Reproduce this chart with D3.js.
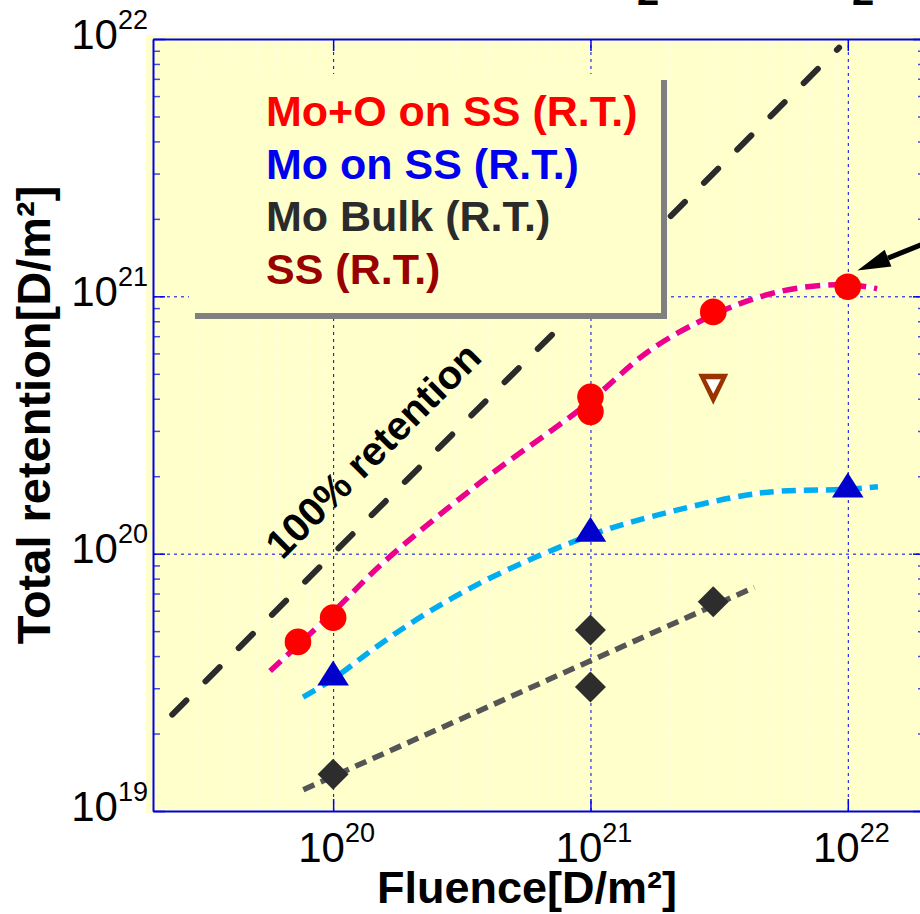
<!DOCTYPE html>
<html>
<head>
<meta charset="utf-8">
<script src="https://cdn.jsdelivr.net/npm/d3@7"></script>
<style>
  html, body { margin: 0; padding: 0; background: #fff; }
  svg { display: block; font-family: "Liberation Sans", Arial, Helvetica, sans-serif; }
</style>
</head>
<body>
<svg id="chart"></svg>
<script>
// ---- data (fluence [D/m2], retention [D/m2]) ----
const xTicks = [1e20, 1e21, 1e22];
const yTicks = [1e19, 1e20, 1e21, 1e22];

const moOxideOnSS = [[7.3e19, 4.54e19], [1e20, 5.64e19], [1e21, 4.07e20], [1e21, 3.56e20], [3e21, 8.7e20], [1e22, 1.09e21]];
const moOnSS = [[1e20, 3.44e19], [1e21, 1.245e20], [1e22, 1.85e20]];
const moBulk = [[1e20, 1.39e19], [1e21, 5.05e19], [1e21, 3.03e19], [3e21, 6.5e19]];
const ssOnly = [[3e21, 4.35e20]];

// dashed guide curves
const fitMoOxide = [[5.69e19, 3.5e19], [1e20, 5.93e19], [1.56e20, 9.2e19], [3.83e20, 1.93e20], [9.38e20, 3.72e20],
  [1.71e21, 6.19e20], [3.0e21, 8.47e20], [4.56e21, 9.96e20], [6.53e21, 1.08e21], [1e22, 1.11e21], [1.3e22, 1.07e21]];
const fitMoOnSS = [[7.64e19, 2.77e19], [1e20, 3.26e19], [1.48e20, 4.36e19], [2.31e20, 5.87e19], [4.19e20, 8.15e19],
  [1e21, 1.18e20], [1.71e21, 1.39e20], [4.57e21, 1.72e20], [1e22, 1.78e20], [1.31e22, 1.82e20]];
const fitMoBulk = [[7.66e19, 1.21e19], [4.33e21, 7.4e19]];
const fullRetention = [[2.37e19, 2.37e19], [9.25e21, 9.25e21]];

const legendLabels = ['Mo+O on SS (R.T.)', 'Mo on SS (R.T.)', 'Mo Bulk (R.T.)', 'SS (R.T.)'];
const legendColors = ['#ff0000', '#0000ee', '#2b2b2b', '#990000'];

// annotations
const retentionLabelAt = [1.56e20, 2.31e20];
const arrowTip = [1.09e22, 1.26e21];
const arrowTail = [2.29e22, 1.70e21];

// ---- layout ----
const width = 920, height = 914;
const plot = { left: 153, top: 39, bottom: 811, right: 925 };

const svg = d3.select('#chart').attr('width', width).attr('height', height)
  .attr('viewBox', `0 0 ${width} ${height}`);

const x = d3.scaleLog().domain([10 ** 19.3, 10 ** 22.3]).range([plot.left, plot.right]);
const y = d3.scaleLog().domain([1e19, 1e22]).range([plot.bottom, plot.top]);

const minors = (lo, hi) => {
  const out = [];
  for (let e = lo; e < hi; e++) for (let k = 2; k <= 9; k++) out.push(k * 10 ** e);
  return out;
};
const minorX = minors(19, 23).filter(d => d > x.domain()[0] && d < x.domain()[1]);
const minorY = minors(19, 22);

// background
svg.append('rect')
  .attr('x', plot.left - 7).attr('y', plot.top - 4)
  .attr('width', width - plot.left + 7).attr('height', plot.bottom - plot.top + 6)
  .attr('fill', '#ffffcc');

// faint minor grid
const grid = svg.append('g');
grid.append('g').attr('transform', `translate(0,${plot.bottom})`)
  .call(d3.axisBottom(x).tickValues(minorX).tickSize(-(plot.bottom - plot.top)).tickFormat(''))
  .call(g => g.select('.domain').remove());
grid.append('g').attr('transform', `translate(${plot.left},0)`)
  .call(d3.axisLeft(y).tickValues(minorY).tickSize(-(plot.right - plot.left)).tickFormat(''))
  .call(g => g.select('.domain').remove());
grid.selectAll('line').attr('stroke', '#ffffff').attr('stroke-width', 1)
  .attr('stroke-dasharray', '1,3').attr('opacity', 0.8);

// major grid
const major = svg.append('g');
major.append('g').attr('transform', `translate(0,${plot.bottom})`)
  .call(d3.axisBottom(x).tickValues(xTicks).tickSize(-(plot.bottom - plot.top)).tickFormat(''))
  .call(g => g.select('.domain').remove());
major.append('g').attr('transform', `translate(${plot.left},0)`)
  .call(d3.axisLeft(y).tickValues(yTicks).tickSize(-(plot.right - plot.left)).tickFormat(''))
  .call(g => g.select('.domain').remove());
major.selectAll('line').attr('stroke', '#0000ee').attr('stroke-width', 1).attr('stroke-dasharray', '3,4');

// ---- lines ----
const curve = d3.line().x(d => x(d[0])).y(d => y(d[1])).curve(d3.curveCatmullRom.alpha(0.5));

svg.append('path').datum(fullRetention)
  .attr('d', curve).attr('fill', 'none')
  .attr('stroke', '#2b2b2b').attr('stroke-width', 6)
  .attr('stroke-linecap', 'round').attr('stroke-dasharray', '20,27');

function fitLine(data, color, dash, underlay) {
  if (underlay) {
    svg.append('path').datum(data).attr('d', curve).attr('fill', 'none')
      .attr('stroke', '#ffffff').attr('stroke-width', 5);
  }
  svg.append('path').datum(data).attr('d', curve).attr('fill', 'none')
    .attr('stroke', color).attr('stroke-width', 5.5)
    .attr('stroke-dasharray', dash);
}
fitLine(fitMoOxide, '#ec008c', '15,8', true);
fitLine(fitMoOnSS, '#00aeef', '14,8', true);
fitLine(fitMoBulk, '#555555', '12,7', false);

// ---- markers ----
svg.append('g').selectAll('circle').data(moOxideOnSS).join('circle')
  .attr('cx', d => x(d[0])).attr('cy', d => y(d[1])).attr('r', 13.3)
  .attr('fill', '#ff0000');

svg.append('g').selectAll('path').data(moOnSS).join('path')
  .attr('transform', d => `translate(${x(d[0])},${y(d[1])})`)
  .attr('d', 'M0,-12.5L15.8,12.5L-15.8,12.5Z')
  .attr('fill', '#0000cc');

svg.append('g').selectAll('path').data(moBulk).join('path')
  .attr('transform', d => `translate(${x(d[0])},${y(d[1])})`)
  .attr('d', 'M0,-15.5L15.5,0L0,15.5L-15.5,0Z')
  .attr('fill', '#2d2d2d');

const ss = svg.append('g').selectAll('g').data(ssOnly).join('g')
  .attr('transform', d => `translate(${x(d[0])},${y(d[1])})`);
ss.append('path').attr('d', 'M-15,-15.5L15,-15.5L0,15.5Z').attr('fill', '#993300');
ss.append('path').attr('d', 'M-7.5,-10L7.5,-10L0,4.5Z').attr('fill', '#ffffff');

// ---- legend (box with drop shadow) ----
const lg = svg.append('g');
lg.append('rect').attr('x', 195).attr('y', 80).attr('width', 472).attr('height', 239).attr('fill', '#808080');
lg.append('rect').attr('x', 189).attr('y', 74).attr('width', 472).attr('height', 239).attr('fill', '#ffffcc');
lg.selectAll('text').data(legendLabels).join('text')
  .attr('x', 266).attr('y', (d, i) => 126 + i * 52.5)
  .attr('font-size', 43).attr('font-weight', 'bold')
  .attr('fill', (d, i) => legendColors[i])
  .text(d => d);

// ---- "100% retention" label ----
svg.append('text')
  .attr('transform', `translate(${x(retentionLabelAt[0])},${y(retentionLabelAt[1])}) rotate(-45)`)
  .attr('text-anchor', 'middle')
  .attr('font-size', 40).attr('font-weight', 'bold').attr('fill', '#000')
  .text('100% retention');

// ---- axes ----
const axisColor = '#0000ee';
function styleAxis(g) {
  g.select('.domain').attr('stroke', axisColor).attr('stroke-width', 2);
  g.selectAll('.tick line').attr('stroke', axisColor).attr('stroke-width', 1.5);
}
function supLabels(sel, baseDy) {
  sel.each(function (d) {
    const t = d3.select(this);
    t.text(null).attr('dy', baseDy).attr('font-size', 42).attr('fill', '#000')
      .attr('font-family', '"Liberation Sans", Arial, sans-serif');
    t.append('tspan').text('10');
    t.append('tspan').attr('dy', -20).attr('font-size', 27).text(Math.round(Math.log10(d)));
  });
}

// minor ticks (left and right)
svg.append('g').attr('transform', `translate(${plot.left},0)`)
  .call(d3.axisLeft(y).tickValues(minorY).tickSizeInner(-7).tickSizeOuter(0).tickFormat(''))
  .call(g => g.select('.domain').remove())
  .selectAll('line').attr('stroke', '#4a4ad8').attr('stroke-width', 1.5);
svg.append('g').attr('transform', `translate(${plot.right},0)`)
  .call(d3.axisRight(y).tickValues(minorY).tickSizeInner(-7).tickSizeOuter(0).tickFormat(''))
  .call(g => g.select('.domain').remove())
  .selectAll('line').attr('stroke', '#4a4ad8').attr('stroke-width', 1.5);

const yAxis = svg.append('g').attr('transform', `translate(${plot.left},0)`)
  .call(d3.axisLeft(y).tickValues(yTicks).tickSizeInner(-12).tickSizeOuter(0).tickPadding(5))
  .call(styleAxis);
yAxis.selectAll('.tick text').call(supLabels, 9);

const xAxis = svg.append('g').attr('transform', `translate(0,${plot.bottom})`)
  .call(d3.axisBottom(x).tickValues(xTicks).tickSizeInner(-12).tickSizeOuter(0))
  .call(styleAxis);
xAxis.selectAll('.tick text').attr('y', 51).attr('x', 3).call(supLabels, 0);

svg.append('g').attr('transform', `translate(0,${plot.top})`)
  .call(d3.axisTop(x).tickValues(xTicks).tickSizeInner(-12).tickSizeOuter(0).tickFormat(''))
  .call(styleAxis);
svg.append('g').attr('transform', `translate(${plot.right},0)`)
  .call(d3.axisRight(y).tickValues(yTicks).tickSizeInner(-12).tickSizeOuter(0).tickFormat(''))
  .call(styleAxis);

// ---- axis titles ----
svg.append('text')
  .attr('transform', 'translate(50,415) rotate(-90)')
  .attr('text-anchor', 'middle').attr('font-size', 47).attr('font-weight', 'bold')
  .text('Total retention[D/m²]');
svg.append('text')
  .attr('x', 527).attr('y', 903)
  .attr('text-anchor', 'middle').attr('font-size', 45).attr('font-weight', 'bold')
  .text('Fluence[D/m²]');

// title cut off at the top edge: only subscript digits show
svg.append('g').selectAll('text').data([648, 863]).join('text')
  .attr('x', d => d).attr('y', 5)
  .attr('text-anchor', 'middle').attr('font-size', 40).attr('font-weight', 'bold')
  .text('2');

// ---- arrow pointing at the saturated Mo+O point ----
const tip = [x(arrowTip[0]), y(arrowTip[1])];
const tail = [x(arrowTail[0]), y(arrowTail[1])];
const len = Math.hypot(tail[0] - tip[0], tail[1] - tip[1]);
const ux = (tail[0] - tip[0]) / len, uy = (tail[1] - tip[1]) / len;
const headLen = 33, headHalf = 9;
const base = [tip[0] + ux * headLen, tip[1] + uy * headLen];
svg.append('line')
  .attr('x1', base[0]).attr('y1', base[1]).attr('x2', tail[0]).attr('y2', tail[1])
  .attr('stroke', '#000').attr('stroke-width', 5);
svg.append('path')
  .attr('d', `M${tip[0]},${tip[1]}L${base[0] - uy * headHalf},${base[1] + ux * headHalf}L${base[0] + uy * headHalf},${base[1] - ux * headHalf}Z`)
  .attr('fill', '#000');
</script>
</body>
</html>
